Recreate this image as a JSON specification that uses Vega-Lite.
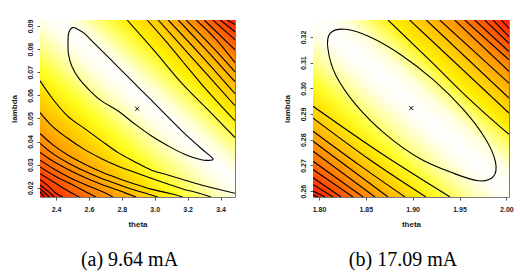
{
  "$schema": "https://vega.github.io/schema/vega-lite/v6.json",
  "background": "white",
  "padding": {"left": 9, "top": 18, "right": 0, "bottom": 0},
  "spacing": 46,
  "config": {
    "view": {"stroke": "#7a7a7a", "strokeWidth": 1},
    "axis": {"domain": false, "grid": false, "tickSize": 3, "tickColor": "#555555", "tickWidth": 1, "labelFont": "Liberation Sans", "labelFontSize": 7, "labelFontWeight": "bold", "labelColor": "#1a1a1a", "titleFont": "Liberation Sans", "titleFontSize": 8, "titleFontWeight": "bold", "titleColor": "#1a1a1a"},
    "axisX": {"labelPadding": 5, "titlePadding": 8},
    "axisY": {"labelAngle": -90, "labelAlign": "center", "labelBaseline": "bottom", "labelPadding": 4, "titlePadding": 8},
    "title": {"font": "Liberation Serif", "fontSize": 20, "fontWeight": "normal", "color": "#000000"}
  },
  "datasets": {
    "a_lines": [
      {"c":"A","t":2.303,"l":0.0663},{"c":"A","t":2.370,"l":0.0594},{"c":"A","t":2.471,"l":0.0510},{"c":"A","t":2.572,"l":0.0457},{"c":"A","t":2.674,"l":0.0404},{"c":"A","t":2.775,"l":0.0353},{"c":"A","t":2.877,"l":0.0313},{"c":"A","t":2.978,"l":0.0277},{"c":"A","t":3.080,"l":0.0255},{"c":"A","t":3.161,"l":0.0238},{"c":"A","t":3.283,"l":0.0212},{"c":"A","t":3.404,"l":0.0190},{"c":"A","t":3.488,"l":0.0176},
      {"c":"B","t":2.303,"l":0.0525},{"c":"B","t":2.370,"l":0.0471},{"c":"B","t":2.471,"l":0.0414},{"c":"B","t":2.572,"l":0.0366},{"c":"B","t":2.674,"l":0.0327},{"c":"B","t":2.775,"l":0.0294},{"c":"B","t":2.877,"l":0.0267},{"c":"B","t":2.978,"l":0.0241},{"c":"B","t":3.080,"l":0.0216},{"c":"B","t":3.161,"l":0.0197},{"c":"B","t":3.270,"l":0.0176},{"c":"B","t":3.343,"l":0.0160},
      {"c":"C","t":2.303,"l":0.0435},{"c":"C","t":2.370,"l":0.0392},{"c":"C","t":2.471,"l":0.0342},{"c":"C","t":2.572,"l":0.0303},{"c":"C","t":2.674,"l":0.0269},{"c":"C","t":2.775,"l":0.0241},{"c":"C","t":2.877,"l":0.0216},{"c":"C","t":2.978,"l":0.0194},{"c":"C","t":3.100,"l":0.0174},{"c":"C","t":3.171,"l":0.0160},
      {"c":"D","t":2.303,"l":0.0392},{"c":"D","t":2.370,"l":0.0353},{"c":"D","t":2.471,"l":0.0308},{"c":"D","t":2.572,"l":0.0272},{"c":"D","t":2.674,"l":0.0241},{"c":"D","t":2.775,"l":0.0215},{"c":"D","t":2.877,"l":0.0190},{"c":"D","t":2.954,"l":0.0174},{"c":"D","t":3.019,"l":0.0160},
      {"c":"E","t":2.303,"l":0.0353},{"c":"E","t":2.370,"l":0.0320},{"c":"E","t":2.471,"l":0.0280},{"c":"E","t":2.572,"l":0.0245},{"c":"E","t":2.674,"l":0.0215},{"c":"E","t":2.816,"l":0.0179},{"c":"E","t":2.887,"l":0.0160},
      {"c":"F","t":2.303,"l":0.0319},{"c":"F","t":2.390,"l":0.0280},{"c":"F","t":2.491,"l":0.0241},{"c":"F","t":2.593,"l":0.0209},{"c":"F","t":2.694,"l":0.0179},{"c":"F","t":2.745,"l":0.0160},
      {"c":"G","t":2.303,"l":0.0290},{"c":"G","t":2.390,"l":0.0252},{"c":"G","t":2.491,"l":0.0216},{"c":"G","t":2.583,"l":0.0182},{"c":"G","t":2.643,"l":0.0160},
      {"c":"H","t":2.303,"l":0.0261},{"c":"H","t":2.390,"l":0.0223},{"c":"H","t":2.481,"l":0.0183},{"c":"H","t":2.542,"l":0.0160},
      {"c":"I","t":2.303,"l":0.0235},{"c":"I","t":2.349,"l":0.0210},{"c":"I","t":2.400,"l":0.0176},{"c":"I","t":2.441,"l":0.0160},
      {"c":"J","t":2.303,"l":0.0212},{"c":"J","t":2.349,"l":0.0186},{"c":"J","t":2.390,"l":0.0160},
      {"c":"K","t":2.303,"l":0.0196},{"c":"K","t":2.339,"l":0.0173},{"c":"K","t":2.359,"l":0.0160},
      {"c":"L","t":2.303,"l":0.0183},{"c":"L","t":2.329,"l":0.0160},
      {"c":"U1","t":2.832,"l":0.0926},{"c":"U1","t":2.997,"l":0.0793},{"c":"U1","t":3.161,"l":0.0655},{"c":"U1","t":3.323,"l":0.0538},{"c":"U1","t":3.488,"l":0.0417},
      {"c":"U2","t":2.954,"l":0.0926},{"c":"U2","t":3.070,"l":0.0832},{"c":"U2","t":3.161,"l":0.0754},{"c":"U2","t":3.283,"l":0.0650},{"c":"U2","t":3.488,"l":0.0490},
      {"c":"U3","t":3.021,"l":0.0926},{"c":"U3","t":3.161,"l":0.0815},{"c":"U3","t":3.325,"l":0.0685},{"c":"U3","t":3.488,"l":0.0555},
      {"c":"U4","t":3.082,"l":0.0926},{"c":"U4","t":3.283,"l":0.0772},{"c":"U4","t":3.488,"l":0.0607},
      {"c":"U5","t":3.143,"l":0.0926},{"c":"U5","t":3.313,"l":0.0797},{"c":"U5","t":3.488,"l":0.0659},
      {"c":"U6","t":3.191,"l":0.0926},{"c":"U6","t":3.343,"l":0.0815},{"c":"U6","t":3.488,"l":0.0702},
      {"c":"U7","t":3.252,"l":0.0926},{"c":"U7","t":3.374,"l":0.0841},{"c":"U7","t":3.488,"l":0.0741},
      {"c":"U8","t":3.301,"l":0.0926},{"c":"U8","t":3.488,"l":0.0797},
      {"c":"U9","t":3.353,"l":0.0926},{"c":"U9","t":3.488,"l":0.0841},
      {"c":"U10","t":3.398,"l":0.0926},{"c":"U10","t":3.488,"l":0.0875},
      {"c":"U11","t":3.441,"l":0.0926},{"c":"U11","t":3.488,"l":0.0906}
    ],
    "a_loop": [
      {"o":0,"t":2.5016,"l":0.0893},{"o":1,"t":2.5217,"l":0.0890},{"o":2,"t":2.5722,"l":0.0868},{"o":3,"t":2.6331,"l":0.0825},{"o":4,"t":2.7347,"l":0.0753},{"o":5,"t":2.8364,"l":0.0681},{"o":6,"t":2.8972,"l":0.0637},{"o":7,"t":2.9782,"l":0.0580},{"o":8,"t":3.0798,"l":0.0507},{"o":9,"t":3.1809,"l":0.0435},{"o":10,"t":3.2825,"l":0.0370},{"o":11,"t":3.3434,"l":0.0334},{"o":12,"t":3.3556,"l":0.0323},{"o":13,"t":3.3373,"l":0.0319},{"o":14,"t":3.2825,"l":0.0321},{"o":15,"t":3.1809,"l":0.0345},{"o":16,"t":3.0798,"l":0.0382},{"o":17,"t":2.9782,"l":0.0425},{"o":18,"t":2.8766,"l":0.0477},{"o":19,"t":2.7755,"l":0.0533},{"o":20,"t":2.6739,"l":0.0577},{"o":21,"t":2.6008,"l":0.0624},{"o":22,"t":2.5400,"l":0.0672},{"o":23,"t":2.4974,"l":0.0724},{"o":24,"t":2.4761,"l":0.0776},{"o":25,"t":2.4730,"l":0.0828},{"o":26,"t":2.4761,"l":0.0867},{"o":27,"t":2.4882,"l":0.0886}
    ],
    "b_lines": [
      {"c":"P1","t":1.7936,"l":0.2930},{"c":"P1","t":1.8662,"l":0.2747},{"c":"P1","t":1.9399,"l":0.2577},
      {"c":"P2","t":1.7936,"l":0.2884},{"c":"P2","t":1.8534,"l":0.2724},{"c":"P2","t":1.9142,"l":0.2577},
      {"c":"P3","t":1.7936,"l":0.2833},{"c":"P3","t":1.8427,"l":0.2702},{"c":"P3","t":1.8918,"l":0.2577},
      {"c":"P4","t":1.7936,"l":0.2794},{"c":"P4","t":1.8737,"l":0.2577},
      {"c":"P5","t":1.7936,"l":0.2755},{"c":"P5","t":1.8598,"l":0.2577},
      {"c":"P6","t":1.7936,"l":0.2716},{"c":"P6","t":1.8470,"l":0.2577},
      {"c":"P7","t":1.7936,"l":0.2684},{"c":"P7","t":1.8363,"l":0.2577},
      {"c":"P8","t":1.7936,"l":0.2652},{"c":"P8","t":1.8235,"l":0.2577},
      {"c":"P9","t":1.7936,"l":0.2626},{"c":"P9","t":1.8150,"l":0.2577},
      {"c":"P10","t":1.7936,"l":0.2600},{"c":"P10","t":1.8064,"l":0.2577},
      {"c":"P11","t":1.7936,"l":0.2585},{"c":"P11","t":1.7989,"l":0.2577},
      {"c":"V1","t":1.8737,"l":0.3266},{"c":"V1","t":1.9217,"l":0.3097},{"c":"V1","t":1.9573,"l":0.2969},{"c":"V1","t":1.9929,"l":0.2852},{"c":"V1","t":2.0028,"l":0.2821},
      {"c":"V2","t":1.8968,"l":0.3266},{"c":"V2","t":2.0028,"l":0.2904},
      {"c":"V3","t":1.9145,"l":0.3266},{"c":"V3","t":2.0028,"l":0.2962},
      {"c":"V4","t":1.9289,"l":0.3266},{"c":"V4","t":2.0028,"l":0.3020},
      {"c":"V5","t":1.9449,"l":0.3266},{"c":"V5","t":2.0028,"l":0.3066},
      {"c":"V6","t":1.9556,"l":0.3266},{"c":"V6","t":2.0028,"l":0.3111},
      {"c":"V7","t":1.9662,"l":0.3266},{"c":"V7","t":2.0028,"l":0.3143},
      {"c":"V8","t":1.9769,"l":0.3266},{"c":"V8","t":2.0028,"l":0.3175},
      {"c":"V9","t":1.9858,"l":0.3266},{"c":"V9","t":2.0028,"l":0.3201},
      {"c":"V10","t":1.9946,"l":0.3266},{"c":"V10","t":2.0028,"l":0.3233}
    ],
    "b_loop": [
      {"o":0,"t":1.9860,"l":0.2656},{"o":1,"t":1.9703,"l":0.2640},{"o":2,"t":1.9439,"l":0.2669},{"o":3,"t":1.9075,"l":0.2727},{"o":4,"t":1.8712,"l":0.2821},{"o":5,"t":1.8397,"l":0.2935},{"o":6,"t":1.8178,"l":0.3052},{"o":7,"t":1.8095,"l":0.3155},{"o":8,"t":1.8119,"l":0.3214},{"o":9,"t":1.8276,"l":0.3230},{"o":10,"t":1.8540,"l":0.3201},{"o":11,"t":1.8873,"l":0.3131},{"o":12,"t":1.9225,"l":0.3032},{"o":13,"t":1.9540,"l":0.2918},{"o":14,"t":1.9771,"l":0.2807},{"o":15,"t":1.9883,"l":0.2715}
    ]
  },
  "hconcat": [
    {
      "width": 195,
      "height": 177,
      "title": {"text": "(a) 9.64 mA", "orient": "bottom", "anchor": "middle", "frame": "group", "dx": -8, "offset": 22, "baseline": "top"},
      "encoding": {
        "x": {"field": "t", "type": "quantitative", "scale": {"domain": [2.3026, 3.488], "nice": false, "zero": false}, "axis": {"values": [2.4, 2.6, 2.8, 3.0, 3.2, 3.4], "format": ".1f", "title": "theta"}},
        "y": {"field": "l", "type": "quantitative", "scale": {"domain": [0.016, 0.0926], "nice": false, "zero": false}, "axis": {"values": [0.02, 0.03, 0.04, 0.05, 0.06, 0.07, 0.08, 0.09], "format": ".2f", "title": "lambda"}}
      },
      "layer": [
        {
          "data": {"values": [{"t": 2.3026, "t2": 3.488, "l": 0.016, "l2": 0.0926}]},
          "mark": {"type": "rect", "color": {"gradient": "linear", "x1": 0, "y1": 1, "x2": 1, "y2": 0, "stops": [
            {"offset": 0, "color": "#ff1500"}, {"offset": 0.06, "color": "#ff4000"}, {"offset": 0.14, "color": "#ff8000"}, {"offset": 0.22, "color": "#ffb000"}, {"offset": 0.30, "color": "#ffe000"}, {"offset": 0.36, "color": "#ffff20"}, {"offset": 0.43, "color": "#ffff90"}, {"offset": 0.50, "color": "#ffffe8"}, {"offset": 0.55, "color": "#ffffff"}, {"offset": 0.60, "color": "#ffffd0"}, {"offset": 0.66, "color": "#ffff60"}, {"offset": 0.72, "color": "#fff000"}, {"offset": 0.80, "color": "#ffc800"}, {"offset": 0.87, "color": "#ff9a00"}, {"offset": 0.94, "color": "#ff5a00"}, {"offset": 1, "color": "#ff2000"}]}},
          "encoding": {"x2": {"field": "t2"}, "y2": {"field": "l2"}}
        },
        {
          "data": {"name": "a_lines"},
          "mark": {"type": "line", "color": "black", "strokeWidth": 1.1, "interpolate": "monotone", "clip": true},
          "encoding": {"detail": {"field": "c", "type": "nominal"}}
        },
        {
          "data": {"name": "a_loop"},
          "mark": {"type": "line", "color": "black", "strokeWidth": 1.1, "interpolate": "cardinal-closed", "clip": true},
          "encoding": {"order": {"field": "o", "type": "quantitative"}}
        },
        {
          "data": {"values": [{"t": 2.893, "l": 0.0542}]},
          "mark": {"type": "point", "shape": "M-1,-1L1,1M-1,1L1,-1", "size": 16, "color": "black", "strokeWidth": 1, "filled": false, "opacity": 1}
        }
      ]
    },
    {
      "width": 196,
      "height": 177,
      "title": {"text": "(b) 17.09 mA", "orient": "bottom", "anchor": "middle", "frame": "group", "dx": -8, "offset": 22, "baseline": "top"},
      "encoding": {
        "x": {"field": "t", "type": "quantitative", "scale": {"domain": [1.7936, 2.0028], "nice": false, "zero": false}, "axis": {"values": [1.8, 1.85, 1.9, 1.95, 2.0], "format": ".2f", "title": "theta"}},
        "y": {"field": "l", "type": "quantitative", "scale": {"domain": [0.2577, 0.3266], "nice": false, "zero": false}, "axis": {"values": [0.26, 0.27, 0.28, 0.29, 0.30, 0.31, 0.32], "format": ".2f", "title": "lambda"}}
      },
      "layer": [
        {
          "data": {"values": [{"t": 1.7936, "t2": 2.0028, "l": 0.2577, "l2": 0.3266}]},
          "mark": {"type": "rect", "color": {"gradient": "linear", "x1": 0, "y1": 1, "x2": 1, "y2": 0, "stops": [
            {"offset": 0, "color": "#ff1a00"}, {"offset": 0.06, "color": "#ff4a00"}, {"offset": 0.13, "color": "#ff8500"}, {"offset": 0.20, "color": "#ffb800"}, {"offset": 0.27, "color": "#ffe500"}, {"offset": 0.33, "color": "#ffff30"}, {"offset": 0.40, "color": "#ffffa0"}, {"offset": 0.47, "color": "#fffff0"}, {"offset": 0.52, "color": "#ffffff"}, {"offset": 0.58, "color": "#ffffe0"}, {"offset": 0.64, "color": "#ffff70"}, {"offset": 0.70, "color": "#ffee00"}, {"offset": 0.78, "color": "#ffc400"}, {"offset": 0.86, "color": "#ff9000"}, {"offset": 0.93, "color": "#ff5500"}, {"offset": 1, "color": "#ff1a00"}]}},
          "encoding": {"x2": {"field": "t2"}, "y2": {"field": "l2"}}
        },
        {
          "data": {"name": "b_lines"},
          "mark": {"type": "line", "color": "black", "strokeWidth": 1.1, "interpolate": "monotone", "clip": true},
          "encoding": {"detail": {"field": "c", "type": "nominal"}}
        },
        {
          "data": {"name": "b_loop"},
          "mark": {"type": "line", "color": "black", "strokeWidth": 1.1, "interpolate": "cardinal-closed", "clip": true},
          "encoding": {"order": {"field": "o", "type": "quantitative"}}
        },
        {
          "data": {"values": [{"t": 1.8985, "l": 0.2923}]},
          "mark": {"type": "point", "shape": "M-1,-1L1,1M-1,1L1,-1", "size": 16, "color": "black", "strokeWidth": 1, "filled": false, "opacity": 1}
        }
      ]
    }
  ]
}
